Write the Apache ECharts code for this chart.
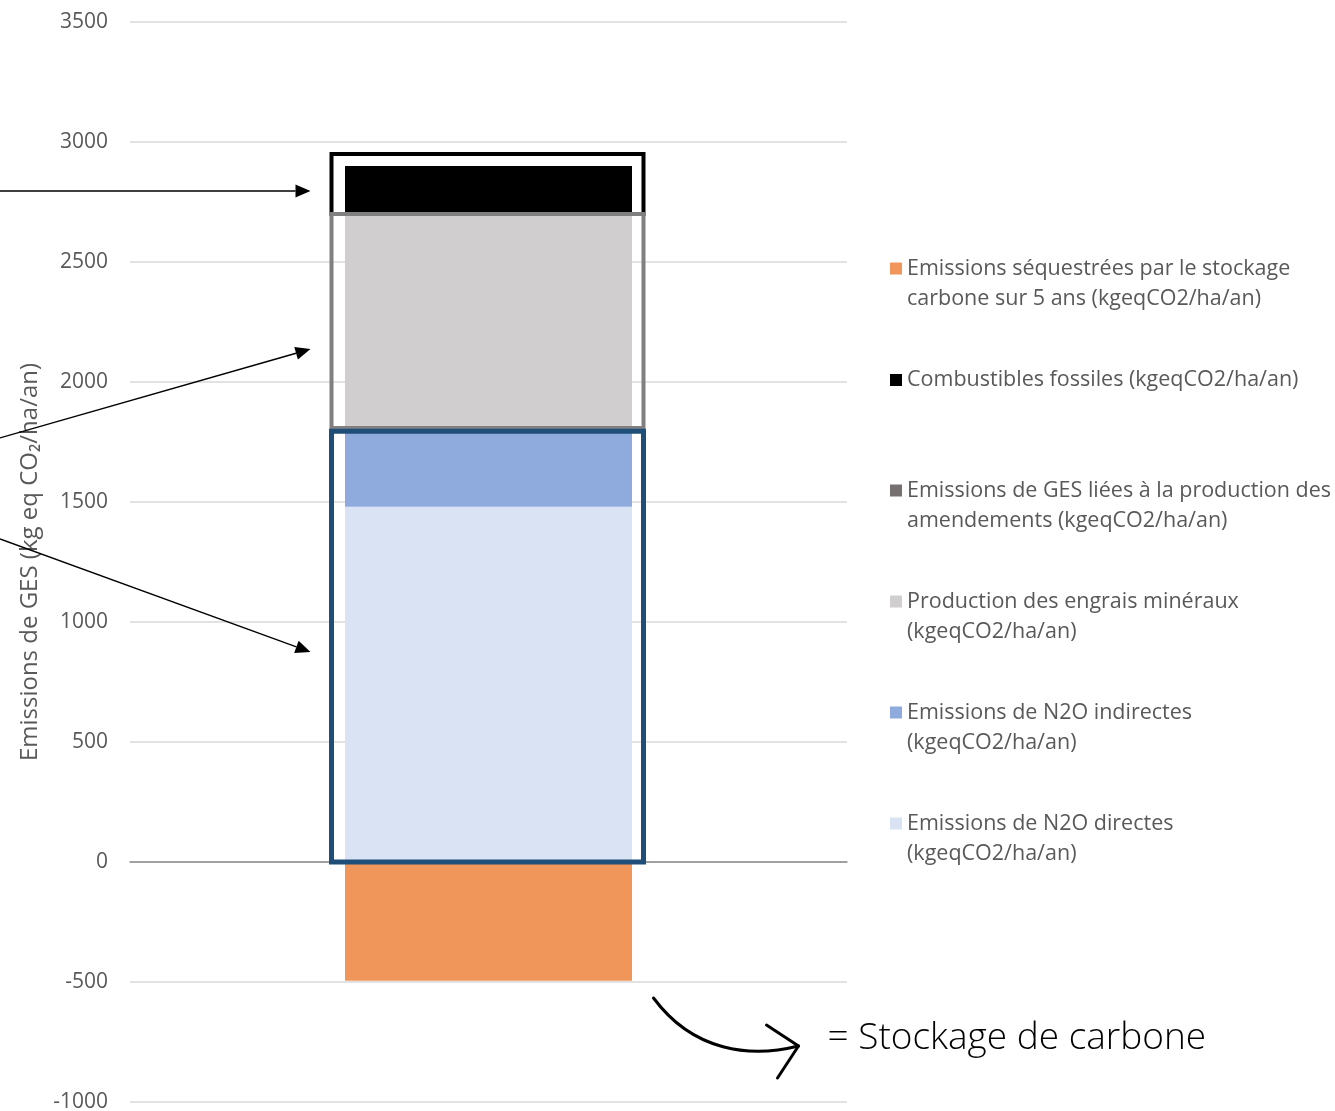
<!DOCTYPE html>
<html><head><meta charset="utf-8">
<script src="https://cdn.jsdelivr.net/npm/echarts@6/dist/echarts.min.js"></script>
<style>html,body{margin:0;padding:0;background:#fff}#c{width:1335px;height:1111px}</style>
</head><body><div id="c"></div>
<script>
// ---- data ----
const categories = [''];
const seriesNames = [
  'Emissions de N2O directes (kgeqCO2/ha/an)',
  'Emissions de N2O indirectes (kgeqCO2/ha/an)',
  'Production des engrais minéraux (kgeqCO2/ha/an)',
  'Emissions de GES liées à la production des amendements (kgeqCO2/ha/an)',
  'Combustibles fossiles (kgeqCO2/ha/an)',
  'Emissions séquestrées par le stockage carbone sur 5 ans (kgeqCO2/ha/an)'
];
const n2oDirectes = [1480];
const n2oIndirectes = [320];
const engraisMineraux = [900];
const amendements = [8];
const combustiblesFossiles = [192];
const stockageCarbone = [-495];
const seriesColors = ['#dae3f3', '#8faadc', '#d0cece', '#767171', '#000000', '#f1965a'];
const legendLabels = [
  'Emissions séquestrées par le stockage\ncarbone sur 5 ans (kgeqCO2/ha/an)',
  'Combustibles fossiles (kgeqCO2/ha/an)',
  'Emissions de GES liées à la production des\namendements (kgeqCO2/ha/an)',
  'Production des engrais minéraux\n(kgeqCO2/ha/an)',
  'Emissions de N2O indirectes\n(kgeqCO2/ha/an)',
  'Emissions de N2O directes\n(kgeqCO2/ha/an)'
];
const legendOrder = [5, 4, 3, 2, 1, 0];
const yTickValues = [-1000, -500, 0, 500, 1000, 1500, 2000, 2500, 3000, 3500];
const yAxisName = 'Emissions de GES (kg eq CO₂/ha/an)';
// annotation boxes (value ranges) and arrows (value targets)
const boxRanges = [[2700, 2950], [1808, 2700], [0, 1795]];
const arrowStartValues = [2796, 1767, 1346];
const arrowTipValues = [2796, 2137, 875];
const noteText = '= Stockage de carbone';

const allValues = [n2oDirectes, n2oIndirectes, engraisMineraux, amendements, combustiblesFossiles, stockageCarbone];
const TXT = '#595959';
const FONT = 'Open Sans';

const chart = echarts.init(document.getElementById('c'), null, {renderer: 'canvas'});

const legendFirstLineCenters = [268.5, 380, 490.5, 601.5, 712.5, 823.5];
const legends = legendOrder.map((si, k) => {
  const lbl = legendLabels[k];
  const twoLines = lbl.indexOf('\n') >= 0;
  return {
    data: [seriesNames[si]],
    left: 890,
    top: legendFirstLineCenters[k] - (twoLines ? 45 : 15),
    orient: 'vertical',
    padding: 0,
    icon: 'rect',
    itemWidth: 12,
    itemHeight: 12,
    itemGap: 0,
    selectedMode: false,
    // leading blank line keeps the marker level with the first text line
    formatter: () => (twoLines ? '\n' : '') + lbl,
    textStyle: {color: TXT, fontSize: 21.5, fontFamily: FONT, lineHeight: 30}
  };
});

const option = {
  animation: false,
  backgroundColor: '#ffffff',
  grid: {left: 130, right: 488, top: 22, bottom: 9, outerBoundsMode: 'none', containLabel: false},
  legend: legends,
  xAxis: {
    type: 'category',
    data: categories,
    axisLine: {show: true, onZero: true, lineStyle: {color: '#8c8c8c', width: 1.5}},
    axisTick: {show: false},
    axisLabel: {show: false}
  },
  yAxis: {
    type: 'value',
    min: yTickValues[0],
    max: yTickValues[yTickValues.length - 1],
    interval: yTickValues[1] - yTickValues[0],
    name: yAxisName,
    nameLocation: 'middle',
    nameGap: 88,
    nameTextStyle: {color: TXT, fontSize: 24, fontFamily: FONT},
    axisLine: {show: false},
    axisTick: {show: false},
    axisLabel: {color: TXT, fontSize: 21, fontFamily: FONT, margin: 22, formatter: v => String(v)},
    splitLine: {lineStyle: {color: '#d9d9d9', width: 1.5}}
  },
  series: allValues.map((vals, i) => ({
    name: seriesNames[i],
    type: 'bar',
    stack: 'total',
    data: vals,
    barWidth: 287,
    itemStyle: {color: seriesColors[i]},
    emphasis: {disabled: true}
  }))
};
chart.setOption(option);

// annotation overlays computed from axis values
const cx = chart.convertToPixel({xAxisIndex: 0}, 0);
const py = v => chart.convertToPixel({yAxisIndex: 0}, v);
const boxStyles = [
  {stroke: '#000000', lineWidth: 4},
  {stroke: '#808080', lineWidth: 4},
  {stroke: '#1f4e79', lineWidth: 5}
];
const graphics = [];
boxRanges.forEach((r, i) => {
  const yTop = py(r[1]), yBot = py(r[0]);
  graphics.push({
    type: 'rect', z: 100,
    shape: {x: cx - 157, y: yTop, width: 312, height: yBot - yTop},
    style: Object.assign({fill: 'none'}, boxStyles[i])
  });
});
function arrow(x1, y1, x2, y2) {
  const ang = Math.atan2(y2 - y1, x2 - x1);
  const L = 15, W = 6.5;
  const bx = x2 - L * Math.cos(ang), by = y2 - L * Math.sin(ang);
  const nx = -Math.sin(ang), ny = Math.cos(ang);
  graphics.push({type: 'line', z: 100, shape: {x1, y1, x2: bx, y2: by}, style: {stroke: '#000', lineWidth: 1.4}});
  graphics.push({type: 'polygon', z: 100, shape: {points: [[x2, y2], [bx + nx * W, by + ny * W], [bx - nx * W, by - ny * W]]}, style: {fill: '#000'}});
}
arrowStartValues.forEach((sv, i) => arrow(0, py(sv), cx - 178, py(arrowTipValues[i])));

// curved arrow near the negative bar
const y5 = py(-500);
graphics.push({type: 'bezierCurve', z: 100,
  shape: {x1: cx + 165, y1: y5 + 16, x2: cx + 310, y2: y5 + 64, cpx1: cx + 205, cpy1: y5 + 70, cpx2: cx + 262, cpy2: y5 + 76},
  style: {stroke: '#000', lineWidth: 3, fill: 'none', lineCap: 'round'}});
graphics.push({type: 'polyline', z: 100,
  shape: {points: [[cx + 278, y5 + 43], [cx + 310, y5 + 64], [cx + 289, y5 + 96]]},
  style: {stroke: '#000', lineWidth: 3, fill: 'none', lineCap: 'round', lineJoin: 'round'}});
graphics.push({type: 'text', z: 100, x: cx + 339, y: y5 + 56,
  style: {text: noteText, fill: '#000', fontSize: 37, fontFamily: 'Open Sans', fontWeight: 300, verticalAlign: 'middle', align: 'left'}});

chart.setOption({graphic: graphics});
</script>
</body></html>
